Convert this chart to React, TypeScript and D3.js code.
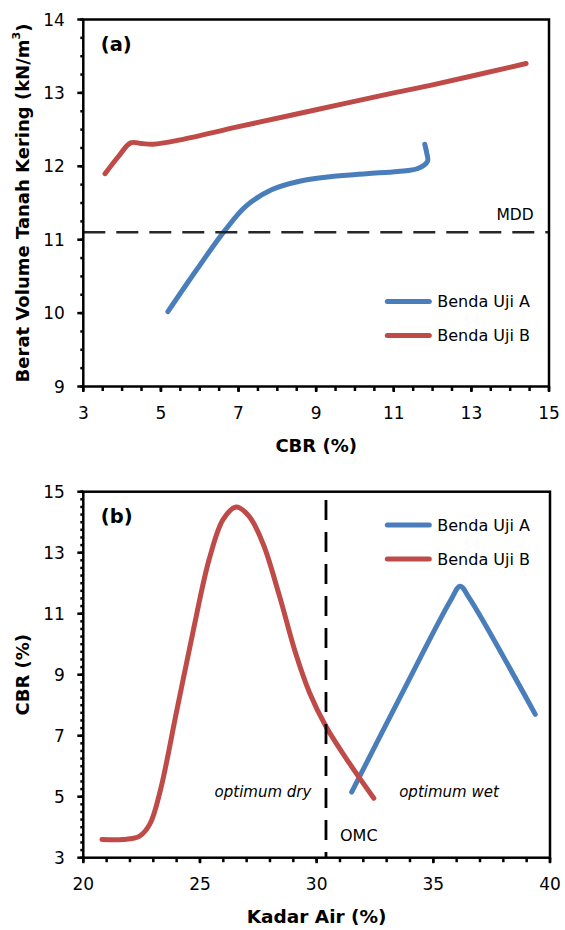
import React from 'react';
import * as d3 from 'd3';

// ---------- Data: panel (a) CBR vs dry unit weight ----------
const aCbrA = [5.18, 5.92, 6.64, 7.2, 7.85, 8.6, 9.4, 10.3, 11.1, 11.62, 11.87, 11.85, 11.8];
const aDenA = [10.02, 10.59, 11.12, 11.46, 11.68, 11.8, 11.86, 11.9, 11.93, 11.97, 12.07, 12.18, 12.3];
const aCbrB = [3.56, 3.9, 4.22, 4.5, 4.8, 5.5, 7.0, 9.0, 11.0, 12.0, 14.41];
const aDenB = [11.9, 12.13, 12.32, 12.31, 12.3, 12.36, 12.54, 12.77, 13.0, 13.11, 13.4];
const mddValue = 11.1;
const aXTicks = [3, 5, 7, 9, 11, 13, 15];
const aYTicks = [9, 10, 11, 12, 13, 14];

// ---------- Data: panel (b) water content vs CBR ----------
const bWaterA = [31.5, 33.6, 35.75, 36.15, 36.55, 39.37];
const bCbrA = [5.15, 8.3, 11.45, 11.9, 11.5, 7.7];
const bWaterB = [20.8, 21.7, 22.4, 22.85, 23.3, 24.0, 24.7, 25.4, 26.0, 26.55, 27.1, 27.7, 28.4, 29.1, 29.7, 30.4, 31.4, 32.45];
const bCbrB = [3.6, 3.6, 3.7, 4.1, 5.2, 7.8, 10.4, 12.8, 14.1, 14.5, 14.2, 13.3, 11.6, 9.7, 8.4, 7.3, 6.1, 4.95];
const omcValue = 30.4;
const omcTop = 14.73;
const bXTicks = [20, 25, 30, 35, 40];
const bYTicks = [3, 5, 7, 9, 11, 13, 15];

const seriesNames = ['Benda Uji A', 'Benda Uji B'];
const colors = ['#4A7EBB', '#BE4B48'];

const FONT = '"DejaVu Sans", "Noto Sans", sans-serif';

type Pt = [number, number];
const zip = (xs: number[], ys: number[]): Pt[] => xs.map((x, i) => [x, ys[i]]);

interface PanelProps {
  top: number;
  bottom: number;
  left: number;
  right: number;
  xDomain: [number, number];
  yDomain: [number, number];
  xTicks: number[];
  yTicks: number[];
  xMinorStep: number;
  yMinorStep: number;
  seriesA: Pt[];
  seriesB: Pt[];
  tag: string;
  legendY: number;
  xTitle: string;
  xTitleSize: number;
  yTitle: React.ReactNode;
  children?: (x: d3.ScaleLinear<number, number>, y: d3.ScaleLinear<number, number>) => React.ReactNode;
}

function Panel(p: PanelProps) {
  const x = d3.scaleLinear().domain(p.xDomain).range([p.left, p.right]);
  const y = d3.scaleLinear().domain(p.yDomain).range([p.bottom, p.top]);
  const line = d3
    .line<Pt>()
    .x((d) => x(d[0]))
    .y((d) => y(d[1]))
    .curve(d3.curveCatmullRom.alpha(0.5));

  const xMinor = d3.range(p.xDomain[0], p.xDomain[1] + 1e-9, p.xMinorStep);
  const yMinor = d3.range(p.yDomain[0], p.yDomain[1] + 1e-9, p.yMinorStep);

  return (
    <g>
      <path d={line(p.seriesA) || ''} fill="none" stroke={colors[0]} strokeWidth={5} strokeLinecap="round" strokeLinejoin="round" />
      <path d={line(p.seriesB) || ''} fill="none" stroke={colors[1]} strokeWidth={5} strokeLinecap="round" strokeLinejoin="round" />
      {p.children && p.children(x, y)}
      <rect x={p.left} y={p.top} width={p.right - p.left} height={p.bottom - p.top} fill="none" stroke="#000" strokeWidth={2.5} />
      {xMinor.map((v, i) => (
        <line key={'xm' + i} x1={x(v)} x2={x(v)} y1={p.bottom} y2={p.bottom + 4.5} stroke="#000" strokeWidth={2.5} />
      ))}
      {p.xTicks.map((v) => (
        <g key={'xt' + v}>
          <line x1={x(v)} x2={x(v)} y1={p.bottom} y2={p.bottom + 5.5} stroke="#000" strokeWidth={2.5} />
          <text x={x(v)} y={p.bottom + 26} textAnchor="middle" dominantBaseline="central" fontSize={17} fontFamily={FONT} fill="#000">
            {v}
          </text>
        </g>
      ))}
      {yMinor.map((v, i) => (
        <line key={'ym' + i} x1={p.left - 3} x2={p.left} y1={y(v)} y2={y(v)} stroke="#000" strokeWidth={2.5} />
      ))}
      {p.yTicks.map((v) => (
        <g key={'yt' + v}>
          <line x1={p.left - 6} x2={p.left} y1={y(v)} y2={y(v)} stroke="#000" strokeWidth={2.5} />
          <text x={p.left - 18.5} y={y(v)} textAnchor="end" dominantBaseline="central" fontSize={17} fontFamily={FONT} fill="#000">
            {v}
          </text>
        </g>
      ))}
      <text x={p.left + 17.5} y={p.top + 25} dominantBaseline="central" fontSize={19.5} fontWeight="bold" fontFamily={FONT} fill="#000">
        {p.tag}
      </text>
      {seriesNames.map((name, i) => (
        <g key={name}>
          <line
            x1={p.left + 304}
            x2={p.left + 346}
            y1={p.legendY + i * 34}
            y2={p.legendY + i * 34}
            stroke={colors[i]}
            strokeWidth={5}
            strokeLinecap="round"
          />
          <text x={p.left + 354} y={p.legendY + i * 34} dominantBaseline="central" fontSize={16} fontFamily={FONT} fill="#000">
            {name}
          </text>
        </g>
      ))}
      <text x={(p.left + p.right) / 2} y={p.bottom + 58.5} textAnchor="middle" dominantBaseline="central" fontSize={p.xTitleSize} fontWeight="bold" fontFamily={FONT} fill="#000">
        {p.xTitle}
      </text>
      <text
        transform={`translate(22.5,${(p.top + p.bottom) / 2}) rotate(-90)`}
        textAnchor="middle"
        dominantBaseline="central"
        fontSize={18}
        fontWeight="bold"
        fontFamily={FONT}
        fill="#000"
      >
        {p.yTitle}
      </text>
    </g>
  );
}

export default function App() {
  return (
    <svg width={565} height={930} style={{ position: 'absolute', left: 0, top: 0, background: '#fff' }}>
      <rect width={565} height={930} fill="#fff" />
      <Panel
        top={19.5}
        bottom={386.5}
        left={83.3}
        right={549}
        xDomain={[3, 15]}
        yDomain={[9, 14]}
        xTicks={aXTicks}
        yTicks={aYTicks}
        xMinorStep={0.5}
        yMinorStep={0.25}
        seriesA={zip(aCbrA, aDenA)}
        seriesB={zip(aCbrB, aDenB)}
        tag="(a)"
        legendY={301.5}
        xTitle="CBR (%)"
        xTitleSize={18}
        yTitle={
          <>
            Berat Volume Tanah Kering (kN/m
            <tspan baselineShift="super" fontSize={11}>3</tspan>
            <tspan>)</tspan>
          </>
        }
      >
        {(x, y) => (
          <g>
            <line x1={x(3)} x2={x(15)} y1={y(mddValue)} y2={y(mddValue)} stroke="#262626" strokeWidth={2.5} strokeDasharray="22 11" />
            <text x={515} y={y(mddValue) - 17} textAnchor="middle" dominantBaseline="central" fontSize={15.5} fontFamily={FONT} fill="#000">
              MDD
            </text>
          </g>
        )}
      </Panel>
      <Panel
        top={491.7}
        bottom={857.7}
        left={83.3}
        right={550}
        xDomain={[20, 40]}
        yDomain={[3, 15]}
        xTicks={bXTicks}
        yTicks={bYTicks}
        xMinorStep={1}
        yMinorStep={0.25}
        seriesA={zip(bWaterA, bCbrA)}
        seriesB={zip(bWaterB, bCbrB)}
        tag="(b)"
        legendY={525}
        xTitle="Kadar Air (%)"
        xTitleSize={18.5}
        yTitle="CBR (%)"
      >
        {(x, y) => (
          <g>
            <line x1={x(omcValue)} x2={x(omcValue)} y1={y(omcTop)} y2={y(3)} stroke="#000" strokeWidth={2.8} strokeDasharray="20 12" />
            <text x={263} y={792} textAnchor="middle" dominantBaseline="central" fontSize={15} fontStyle="italic" fontFamily={FONT} fill="#000">
              optimum dry
            </text>
            <text x={449} y={792} textAnchor="middle" dominantBaseline="central" fontSize={15} fontStyle="italic" fontFamily={FONT} fill="#000">
              optimum wet
            </text>
            <text x={340} y={835} dominantBaseline="central" fontSize={16} fontFamily={FONT} fill="#000">
              OMC
            </text>
          </g>
        )}
      </Panel>
    </svg>
  );
}
